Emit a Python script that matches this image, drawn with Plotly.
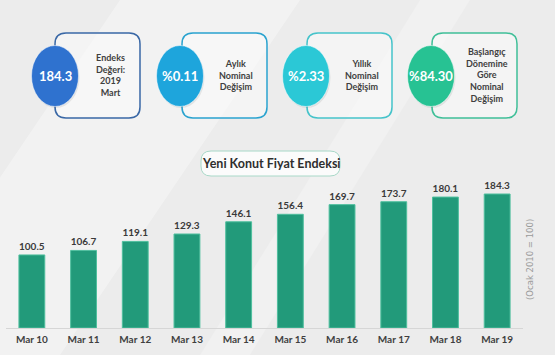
import plotly.graph_objects as go

categories = ["Mar 10", "Mar 11", "Mar 12", "Mar 13", "Mar 14", "Mar 15", "Mar 16", "Mar 17", "Mar 18", "Mar 19"]
values = [100.5, 106.7, 119.1, 129.3, 146.1, 156.4, 169.7, 173.7, 180.1, 184.3]
value_labels = ["100.5", "106.7", "119.1", "129.3", "146.1", "156.4", "169.7", "173.7", "180.1", "184.3"]

card_values = ["184.3", "%0.11", "%2.33", "%84.30"]
card_texts = [
    "Endeks<br>Değeri:<br>2019<br>Mart",
    "Aylık<br>Nominal<br>Değişim",
    "Yıllık<br>Nominal<br>Değişim",
    "Başlangıç<br>Dönemine<br>Göre<br>Nominal<br>Değişim",
]
card_fill = ["#2f72cf", "#1ea5dc", "#2bc8d6", "#27c293"]
card_border = ["#3a68a6", "#2aa3cf", "#45c3ca", "#3fbf98"]

title_text = "Yeni Konut Fiyat Endeksi"
unit_text = "(Ocak 2010 = 100)"

W, H = 555, 355


def px(x):
    return x / W


def py(y):
    return 1 - y / H


fig = go.Figure()
fig.add_trace(go.Bar(
    x=categories, y=values, text=value_labels, textposition="outside",
    textfont=dict(family="Lato, Open Sans, sans-serif", size=10, color="#3a3a3a", weight="bold"),
    marker=dict(color="#229a7a", line=dict(color="#4fbf9e", width=1)),
    cliponaxis=False, hoverinfo="skip",
))

shapes = []
annotations = []

# background diagonal light streaks
shapes.append(dict(type="path", xref="paper", yref="paper", layer="below",
                   path=f"M {px(120)} {py(0)} L {px(300)} {py(0)} L {px(60)} {py(355)} L {px(-120)} {py(355)} Z",
                   fillcolor="rgba(255,255,255,0.35)", line=dict(width=0)))
shapes.append(dict(type="path", xref="paper", yref="paper", layer="below",
                   path=f"M {px(420)} {py(0)} L {px(470)} {py(0)} L {px(250)} {py(355)} L {px(200)} {py(355)} Z",
                   fillcolor="rgba(255,255,255,0.25)", line=dict(width=0)))

# cards
ell_cx = [55, 180, 306, 431]
box_x0 = [55, 182, 307, 432]
for i in range(4):
    x0, x1, y0, y1, r = box_x0[i], box_x0[i] + 85, 33, 118, 11
    path = (f"M {px(x0 + r)} {py(y0)} L {px(x1 - r)} {py(y0)} Q {px(x1)} {py(y0)} {px(x1)} {py(y0 + r)} "
            f"L {px(x1)} {py(y1 - r)} Q {px(x1)} {py(y1)} {px(x1 - r)} {py(y1)} "
            f"L {px(x0 + r)} {py(y1)} Q {px(x0)} {py(y1)} {px(x0)} {py(y1 - r)} "
            f"L {px(x0)} {py(y0 + r)} Q {px(x0)} {py(y0)} {px(x0 + r)} {py(y0)} Z")
    shapes.append(dict(type="path", xref="paper", yref="paper", path=path,
                       fillcolor="rgba(250,250,250,0.6)", line=dict(color=card_border[i], width=1.5)))
    cx, cy, rx, ry = ell_cx[i], 76, 23.5, 30.5
    shapes.append(dict(type="circle", xref="paper", yref="paper",
                       x0=px(cx - rx + 1), x1=px(cx + rx + 1), y0=py(cy + ry + 1.5), y1=py(cy - ry + 1.5),
                       fillcolor="rgba(0,0,0,0.08)", line=dict(width=0)))
    shapes.append(dict(type="circle", xref="paper", yref="paper",
                       x0=px(cx - rx), x1=px(cx + rx), y0=py(cy + ry), y1=py(cy - ry),
                       fillcolor=card_fill[i], line=dict(color="rgba(255,255,255,0.5)", width=1)))
    annotations.append(dict(x=px(cx), y=py(cy), xref="paper", yref="paper", text=card_values[i],
                            showarrow=False, xanchor="center", yanchor="middle",
                            font=dict(family="Lato, Open Sans, sans-serif", size=13, color="white", weight="bold")))
    annotations.append(dict(x=px((cx + rx + x1) / 2 + 1), y=py(75), xref="paper", yref="paper", text=card_texts[i],
                            showarrow=False, xanchor="center", yanchor="middle", align="center",
                            font=dict(family="Lato, Open Sans, sans-serif", size=9, color="#3f3f3f", weight="bold")))

# title box
tx0, tx1, ty0, ty1, tr = 201, 340, 151, 176, 10
tpath = (f"M {px(tx0 + tr)} {py(ty0)} L {px(tx1 - tr)} {py(ty0)} Q {px(tx1)} {py(ty0)} {px(tx1)} {py(ty0 + tr)} "
         f"L {px(tx1)} {py(ty1 - tr)} Q {px(tx1)} {py(ty1)} {px(tx1 - tr)} {py(ty1)} "
         f"L {px(tx0 + tr)} {py(ty1)} Q {px(tx0)} {py(ty1)} {px(tx0)} {py(ty1 - tr)} "
         f"L {px(tx0)} {py(ty0 + tr)} Q {px(tx0)} {py(ty0)} {px(tx0 + tr)} {py(ty0)} Z")
shapes.append(dict(type="path", xref="paper", yref="paper", path=tpath,
                   fillcolor="#fbfbfb", line=dict(color="#a8d8c8", width=1)))
annotations.append(dict(x=px(271), y=py(163.5), xref="paper", yref="paper", text=title_text,
                        showarrow=False, xanchor="center", yanchor="middle",
                        font=dict(family="Lato, Open Sans, sans-serif", size=12.5, color="#2e2e2e", weight="bold")))

annotations.append(dict(x=px(530), y=py(260), xref="paper", yref="paper", text=unit_text,
                        showarrow=False, xanchor="center", yanchor="middle", textangle=-90,
                        font=dict(family="DejaVu Sans, sans-serif", size=8.5, color="#9a9a9a")))

y_top_px = 180
ymax = (328 - y_top_px) / 0.727

fig.update_layout(
    width=W, height=H, autosize=False,
    margin=dict(l=0, r=0, t=0, b=0),
    paper_bgcolor="#ececec", plot_bgcolor="rgba(0,0,0,0)",
    showlegend=False,
    bargap=0.5,
    xaxis=dict(domain=[px(6), px(523)], range=[-0.5, 9.5], showgrid=False, zeroline=False,
               showline=True, linecolor="#d6d6d6", linewidth=1, ticks="", ticklabelstandoff=2,
               tickfont=dict(family="Lato, Open Sans, sans-serif", size=10, color="#3f3f3f", weight="bold"),
               fixedrange=True),
    yaxis=dict(domain=[py(328), py(y_top_px)], range=[0, ymax], visible=False, fixedrange=True),
    shapes=shapes,
    annotations=annotations,
)

fig.write_html("out.html", config={"displayModeBar": False},
               post_script="document.body.style.margin='0';document.body.style.overflow='hidden';")
